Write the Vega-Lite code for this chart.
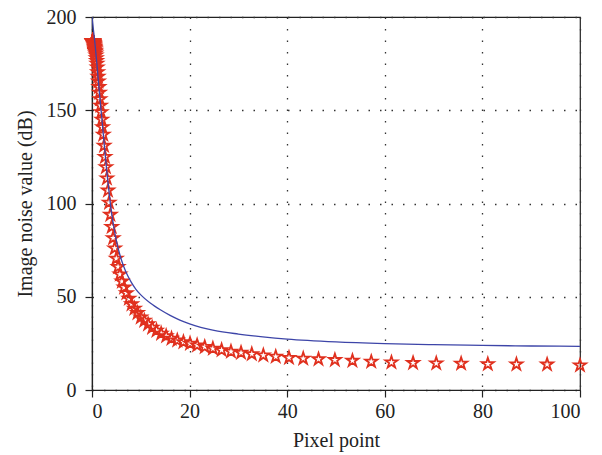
{
  "$schema": "https://vega.github.io/schema/vega-lite/v6.json",
  "autosize": "none",
  "width": 488,
  "height": 373,
  "padding": {"left": 92, "top": 17, "right": 22, "bottom": 65},
  "background": "white",
  "config": {
    "view": {"stroke": "#222", "strokeWidth": 1.2},
    "font": "Liberation Serif",
    "axis": {
      "labelFont": "Liberation Serif",
      "titleFont": "Liberation Serif",
      "labelFontSize": 20,
      "titleFontSize": 20,
      "titleFontWeight": "normal",
      "labelColor": "#222",
      "titleColor": "#222",
      "domainColor": "#222",
      "domainWidth": 1.2,
      "tickColor": "#222",
      "tickSize": 7,
      "tickWidth": 1.2,
      "gridColor": "#333",
      "gridDash": [1.5, 10],
      "gridWidth": 1.3,
      "gridOpacity": 1
    }
  },
  "datasets": {
    "fit": [
      {"x": 0, "y": 200}, {"x": 0.3, "y": 193}, {"x": 0.6, "y": 186}, {"x": 1.0, "y": 175},
      {"x": 1.5, "y": 160}, {"x": 2.0, "y": 146}, {"x": 2.5, "y": 132}, {"x": 3.0, "y": 118},
      {"x": 3.5, "y": 106}, {"x": 4.0, "y": 95}, {"x": 4.5, "y": 87}, {"x": 5.0, "y": 80},
      {"x": 6.0, "y": 70}, {"x": 7.0, "y": 63}, {"x": 8.0, "y": 58}, {"x": 9.0, "y": 54},
      {"x": 10, "y": 51}, {"x": 12, "y": 46.5}, {"x": 14, "y": 43}, {"x": 16, "y": 40},
      {"x": 18, "y": 37.5}, {"x": 20, "y": 35.5}, {"x": 25, "y": 32}, {"x": 30, "y": 30},
      {"x": 35, "y": 28.5}, {"x": 40, "y": 27.3}, {"x": 50, "y": 25.8}, {"x": 60, "y": 24.9},
      {"x": 70, "y": 24.3}, {"x": 80, "y": 23.9}, {"x": 90, "y": 23.6}, {"x": 100, "y": 23.4}
    ],
    "obs": [
      {"x": 0.1, "y": 187}, {"x": 0.1072, "y": 187}, {"x": 0.115, "y": 187}, {"x": 0.1233, "y": 187},
      {"x": 0.1322, "y": 187}, {"x": 0.1417, "y": 187}, {"x": 0.152, "y": 187}, {"x": 0.163, "y": 187},
      {"x": 0.1748, "y": 187}, {"x": 0.1874, "y": 187}, {"x": 0.2009, "y": 187}, {"x": 0.2154, "y": 186.9},
      {"x": 0.231, "y": 186.8}, {"x": 0.2477, "y": 186.7}, {"x": 0.2656, "y": 186.6}, {"x": 0.2848, "y": 186.5},
      {"x": 0.3054, "y": 186.3}, {"x": 0.3275, "y": 186.2}, {"x": 0.3511, "y": 186.0}, {"x": 0.3765, "y": 185.8},
      {"x": 0.4037, "y": 185.5}, {"x": 0.4329, "y": 185.2}, {"x": 0.4642, "y": 184.8}, {"x": 0.4977, "y": 184.3},
      {"x": 0.5337, "y": 184.0}, {"x": 0.5722, "y": 183.5}, {"x": 0.6136, "y": 182.8}, {"x": 0.6579, "y": 182.0},
      {"x": 0.7055, "y": 181.5}, {"x": 0.7565, "y": 180.5}, {"x": 0.8111, "y": 179.5}, {"x": 0.8697, "y": 178},
      {"x": 0.9326, "y": 176.5}, {"x": 1.0, "y": 175}, {"x": 1.0723, "y": 173}, {"x": 1.1498, "y": 170.5},
      {"x": 1.2328, "y": 168}, {"x": 1.3219, "y": 165.5}, {"x": 1.4175, "y": 162.5}, {"x": 1.5199, "y": 159.5},
      {"x": 1.6298, "y": 156}, {"x": 1.7475, "y": 152.5}, {"x": 1.8738, "y": 149}, {"x": 2.0092, "y": 145},
      {"x": 2.1544, "y": 141}, {"x": 2.3101, "y": 137}, {"x": 2.4771, "y": 131}, {"x": 2.6561, "y": 125},
      {"x": 2.848, "y": 119.5}, {"x": 3.0539, "y": 113.5}, {"x": 3.2745, "y": 107}, {"x": 3.5112, "y": 100.5},
      {"x": 3.7649, "y": 94}, {"x": 4.037, "y": 87.5}, {"x": 4.3288, "y": 81.5}, {"x": 4.6416, "y": 76},
      {"x": 4.977, "y": 70.5}, {"x": 5.3367, "y": 66}, {"x": 5.7224, "y": 62}, {"x": 6.1359, "y": 58.2},
      {"x": 6.5793, "y": 55}, {"x": 7.0548, "y": 52}, {"x": 7.5646, "y": 49}, {"x": 8.1113, "y": 46},
      {"x": 8.6975, "y": 43.7}, {"x": 9.326, "y": 41.3}, {"x": 10, "y": 39}, {"x": 10.723, "y": 37.2},
      {"x": 11.498, "y": 35.3}, {"x": 12.328, "y": 33.5}, {"x": 13.219, "y": 31.9}, {"x": 14.175, "y": 30.3},
      {"x": 15.199, "y": 28.9}, {"x": 16.298, "y": 27.6}, {"x": 17.475, "y": 26.6}, {"x": 18.738, "y": 25.7},
      {"x": 20.092, "y": 24.9}, {"x": 21.544, "y": 24.0}, {"x": 23.101, "y": 23.1}, {"x": 24.771, "y": 22.2},
      {"x": 26.561, "y": 21.4}, {"x": 28.48, "y": 20.6}, {"x": 30.539, "y": 20.0}, {"x": 32.745, "y": 19.3},
      {"x": 35.112, "y": 18.6}, {"x": 37.649, "y": 17.9}, {"x": 40.37, "y": 17.3}, {"x": 43.288, "y": 16.9},
      {"x": 46.416, "y": 16.5}, {"x": 49.77, "y": 16.1}, {"x": 53.367, "y": 15.7}, {"x": 57.224, "y": 15.2},
      {"x": 61.359, "y": 14.8}, {"x": 65.793, "y": 14.5}, {"x": 70.548, "y": 14.3}, {"x": 75.646, "y": 14.2},
      {"x": 81.113, "y": 13.9}, {"x": 86.975, "y": 13.8}, {"x": 93.26, "y": 13.7}, {"x": 100, "y": 13.2}
    ]
  },
  "encoding": {
    "x": {
      "field": "x", "type": "quantitative",
      "scale": {"domain": [0, 100], "nice": false, "zero": false},
      "axis": {"title": "Pixel point", "values": [0, 20, 40, 60, 80, 100], "grid": true, "labelPadding": 4, "titlePadding": 9}
    },
    "y": {
      "field": "y", "type": "quantitative",
      "scale": {"domain": [0, 200], "nice": false},
      "axis": {"title": "Image noise value (dB)", "values": [0, 50, 100, 150, 200], "grid": true, "labelPadding": 9, "titlePadding": 11}
    }
  },
  "layer": [
    {
      "data": {"name": "obs"},
      "mark": {
        "type": "point",
        "shape": "M0,-1L0.2245,-0.309L0.951,-0.309L0.3633,0.118L0.5878,0.809L0,0.382L-0.5878,0.809L-0.3633,0.118L-0.951,-0.309L-0.2245,-0.309Z",
        "filled": false,
        "stroke": "#e0301e",
        "strokeWidth": 1.8,
        "opacity": 1,
        "size": 160
      }
    },
    {
      "data": {"name": "fit"},
      "mark": {"type": "line", "color": "#3d45a8", "strokeWidth": 1.3, "interpolate": "monotone", "clip": true}
    }
  ]
}
